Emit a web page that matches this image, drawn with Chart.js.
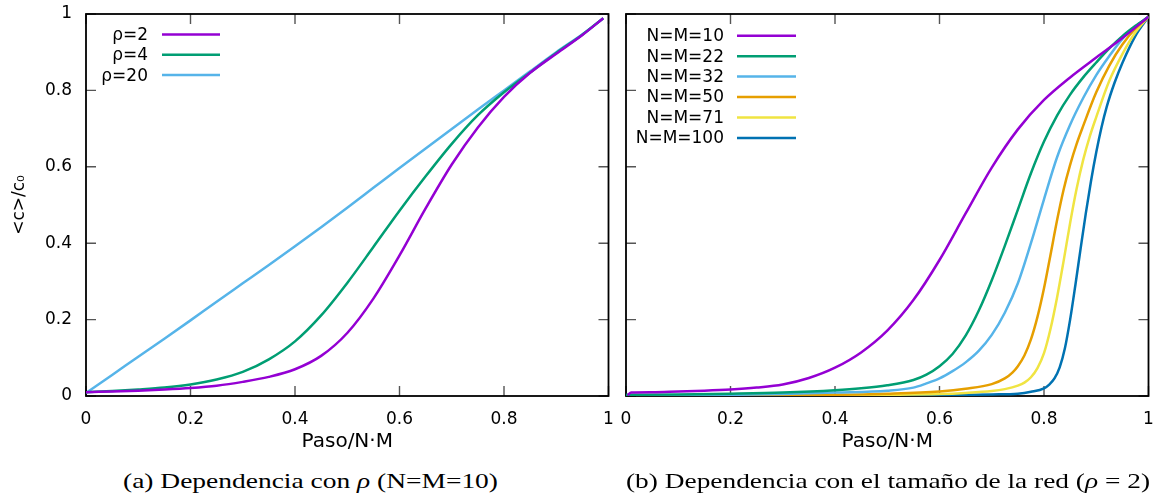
<!DOCTYPE html>
<html><head><meta charset="utf-8">
<script src="https://cdn.jsdelivr.net/npm/chart.js@4.4.1/dist/chart.umd.min.js"></script>
<style>
html,body{margin:0;padding:0;background:#fff;}
#wrap{position:relative;width:1156px;height:495px;overflow:hidden;background:#fff;}
#c1{position:absolute;left:0;top:0;width:616px;height:455px;}
#c2{position:absolute;left:614px;top:0;width:542px;height:455px;}
.cap{position:absolute;top:470px;font-family:"Liberation Serif",serif;font-size:22px;white-space:nowrap;transform-origin:0 0;color:#000;line-height:1;}
</style></head><body>
<div id="wrap">
<canvas id="c1" width="616" height="455"></canvas>
<canvas id="c2" width="542" height="455"></canvas>
<div class="cap" id="capA">(a) Dependencia con <i>ρ</i> (N=M=10)</div>
<div class="cap" id="capB">(b) Dependencia con el tamaño de la red (<i>ρ</i> = 2)</div>
</div>
<script>
// ---------- data ----------
const xTickLabels = ['0','0.2','0.4','0.6','0.8','1'];
const yTickLabels = ['0','0.2','0.4','0.6','0.8','1'];

// (a) dependence on rho, N=M=10
const labelsA = ['ρ=2','ρ=4','ρ=20'];
const xA = [0,0.05,0.1,0.15,0.2,0.25,0.3,0.35,0.4,0.45,0.5,0.55,0.6,0.65,0.7,0.75,0.8,0.85,0.9,0.95,0.99];
const rho2  = [0.010,0.012,0.014,0.017,0.021,0.027,0.037,0.050,0.070,0.105,0.165,0.255,0.368,0.491,0.606,0.703,0.783,0.846,0.896,0.945,0.989];
const rho4  = [0.010,0.013,0.017,0.022,0.030,0.043,0.063,0.096,0.143,0.211,0.296,0.390,0.485,0.575,0.660,0.735,0.795,0.847,0.898,0.946,0.989];
const rho20 = [0.008,0.055,0.103,0.150,0.198,0.247,0.295,0.343,0.392,0.442,0.493,0.545,0.597,0.648,0.699,0.750,0.800,0.850,0.900,0.947,0.989];

// (b) dependence on lattice size, rho=2
const labelsB = ['N=M=10','N=M=22','N=M=32','N=M=50','N=M=71','N=M=100'];
const xN10  = [0.003,0.01,0.05,0.1,0.15,0.2,0.25,0.3,0.35,0.4,0.45,0.5,0.55,0.6,0.65,0.7,0.75,0.8,0.85,0.9,0.95,1.0];
const yN10  = [0.002,0.009,0.010,0.012,0.014,0.017,0.022,0.030,0.047,0.074,0.114,0.171,0.251,0.356,0.478,0.598,0.698,0.775,0.834,0.886,0.937,0.993];
const xN22  = [0,0.1,0.2,0.3,0.4,0.45,0.5,0.55,0.575,0.6,0.625,0.65,0.675,0.7,0.725,0.75,0.775,0.8,0.825,0.85,0.875,0.9,0.925,0.95,0.975,1.0];
const yN22  = [0.003,0.004,0.006,0.009,0.015,0.020,0.028,0.042,0.056,0.078,0.110,0.158,0.223,0.303,0.393,0.488,0.583,0.666,0.734,0.789,0.834,0.873,0.910,0.942,0.969,0.993];
const xN32  = [0,0.2,0.3,0.4,0.5,0.55,0.575,0.6,0.625,0.65,0.675,0.7,0.725,0.75,0.775,0.8,0.825,0.85,0.875,0.9,0.925,0.95,0.975,1.0];
const yN32  = [0.002,0.003,0.005,0.009,0.014,0.022,0.033,0.046,0.065,0.088,0.118,0.160,0.218,0.295,0.400,0.515,0.625,0.710,0.780,0.840,0.890,0.935,0.967,0.993];
const xN50  = [0,0.3,0.4,0.5,0.6,0.65,0.7,0.725,0.74,0.75,0.7625,0.775,0.7875,0.8,0.8125,0.825,0.8375,0.85,0.8625,0.875,0.9,0.925,0.95,0.975,1.0];
const yN50  = [0.001,0.002,0.003,0.006,0.012,0.019,0.031,0.046,0.062,0.078,0.106,0.148,0.207,0.282,0.370,0.460,0.540,0.605,0.660,0.707,0.795,0.865,0.920,0.962,0.993];
const xN71  = [0,0.4,0.5,0.6,0.65,0.7,0.725,0.75,0.7625,0.775,0.7875,0.8,0.8125,0.825,0.8375,0.85,0.8625,0.875,0.8875,0.9,0.925,0.95,0.975,1.0];
const yN71  = [0.001,0.002,0.003,0.005,0.008,0.013,0.018,0.027,0.035,0.049,0.073,0.112,0.176,0.258,0.353,0.453,0.543,0.618,0.679,0.730,0.825,0.895,0.952,0.993];
const xN100 = [0,0.5,0.6,0.7,0.75,0.775,0.8,0.81,0.82,0.83,0.84,0.85,0.86,0.87,0.88,0.89,0.9,0.91,0.92,0.935,0.95,0.975,1.0];
const yN100 = [0.000,0.001,0.002,0.004,0.006,0.011,0.020,0.030,0.046,0.075,0.125,0.200,0.290,0.385,0.478,0.563,0.638,0.703,0.757,0.820,0.872,0.943,0.993];

const colors = ['#9400d3','#009e73','#56b4e9','#e69f00','#f0e442','#0072b2'];

// ---------- helpers ----------
const FONT = 'DejaVu Sans';
function pts(xs, ys){ return xs.map((x,i)=>({x:x, y:ys[i]})); }
function ds(label, xs, ys, c){
  return {label, data:pts(xs,ys), borderColor:c, backgroundColor:c, borderWidth:2.5,
          pointRadius:0, fill:false, cubicInterpolationMode:'monotone'};
}

const framePlugin = {
  id:'frame',
  beforeDatasetsDraw(chart){
    const {ctx, chartArea:a, scales:{x, y}} = chart;
    const L = 10;
    ctx.save();
    ctx.strokeStyle = '#555'; ctx.lineWidth = 1.4;
    x.ticks.forEach(t=>{
      const p = x.getPixelForValue(t.value);
      ctx.beginPath();
      ctx.moveTo(p, a.bottom); ctx.lineTo(p, a.bottom - L);
      ctx.moveTo(p, a.top); ctx.lineTo(p, a.top + L);
      ctx.stroke();
    });
    y.ticks.forEach(t=>{
      const p = y.getPixelForValue(t.value);
      ctx.beginPath();
      ctx.moveTo(a.left, p); ctx.lineTo(a.left + L, p);
      ctx.moveTo(a.right, p); ctx.lineTo(a.right - L, p);
      ctx.stroke();
    });
    ctx.strokeStyle = '#000'; ctx.lineWidth = 1.8;
    ctx.strokeRect(a.left, a.top, a.right - a.left, a.bottom - a.top);
    ctx.restore();
  }
};

const keyPlugin = {
  id:'key',
  afterDatasetsDraw(chart, args, o){
    const ctx = chart.ctx;
    ctx.save();
    ctx.font = '17px "' + FONT + '"';
    ctx.fillStyle = '#000';
    ctx.textAlign = 'right';
    ctx.textBaseline = 'middle';
    chart.data.datasets.forEach((d,i)=>{
      const yy = o.top + i*o.step;
      ctx.fillText(d.label, o.textRight, yy + 1);
      ctx.strokeStyle = d.borderColor;
      ctx.lineWidth = 2.5;
      ctx.beginPath(); ctx.moveTo(o.x0, yy); ctx.lineTo(o.x1, yy); ctx.stroke();
    });
    ctx.restore();
  }
};

function makeOptions(withY, yW, padR, key){
  return {
    responsive:false, animation:false, events:[],
    layout:{padding:{left:0, right:padR, top:14, bottom:0}},
    plugins:{legend:{display:false}, tooltip:{enabled:false}, key:key},
    scales:{
      x:{type:'linear', min:0, max:1,
         ticks:{stepSize:0.2, autoSkip:false, maxRotation:0, padding:0, color:'#000',
                font:{family:FONT, size:17}, callback:(v,i)=>xTickLabels[i]},
         grid:{display:false, drawTicks:true, tickLength:13}, border:{display:false},
         title:{display:true, text:'Paso/N·M', color:'#000', font:{family:FONT, size:20}, padding:{top:0, bottom:1}},
         afterFit(s){ s.height = 59; }},
      y:{type:'linear', min:0, max:1,
         ticks:{display:withY, stepSize:0.2, padding:0, color:'#000',
                font:{family:FONT, size:17}, callback:(v,i)=>yTickLabels[i]},
         grid:{display:false, drawTicks:true, tickLength:14}, border:{display:false},
         title:{display:withY, text:'<c>/c₀', color:'#000', font:{family:FONT, size:17}, padding:{top:9, bottom:0}},
         afterFit(s){ s.width = yW; }}
    }
  };
}

Chart.defaults.font.family = FONT;

new Chart(document.getElementById('c1'), {
  type:'line',
  data:{datasets:[
    ds(labelsA[0], xA, rho2, colors[0]),
    ds(labelsA[1], xA, rho4, colors[1]),
    ds(labelsA[2], xA, rho20, colors[2])
  ]},
  options: makeOptions(true, 86, 7.5, {top:34.5, step:20.3, textRight:148, x0:162, x1:220}),
  plugins:[framePlugin, keyPlugin]
});

new Chart(document.getElementById('c2'), {
  type:'line',
  data:{datasets:[
    ds(labelsB[0], xN10, yN10, colors[0]),
    ds(labelsB[1], xN22, yN22, colors[1]),
    ds(labelsB[2], xN32, yN32, colors[2]),
    ds(labelsB[3], xN50, yN50, colors[3]),
    ds(labelsB[4], xN71, yN71, colors[4]),
    ds(labelsB[5], xN100, yN100, colors[5])
  ]},
  options: makeOptions(false, 12, 7.5, {top:35.7, step:20.45, textRight:110, x0:123, x1:182}),
  plugins:[framePlugin, keyPlugin]
});

// captions: stretch to the reference widths
function fitCap(id, left, width){
  const el = document.getElementById(id);
  const w = el.getBoundingClientRect().width;
  el.style.left = left + 'px';
  el.style.transform = 'scaleX(' + (width / w) + ')';
}
fitCap('capA', 122.7, 375);
fitCap('capB', 626, 524);
</script>
</body></html>
